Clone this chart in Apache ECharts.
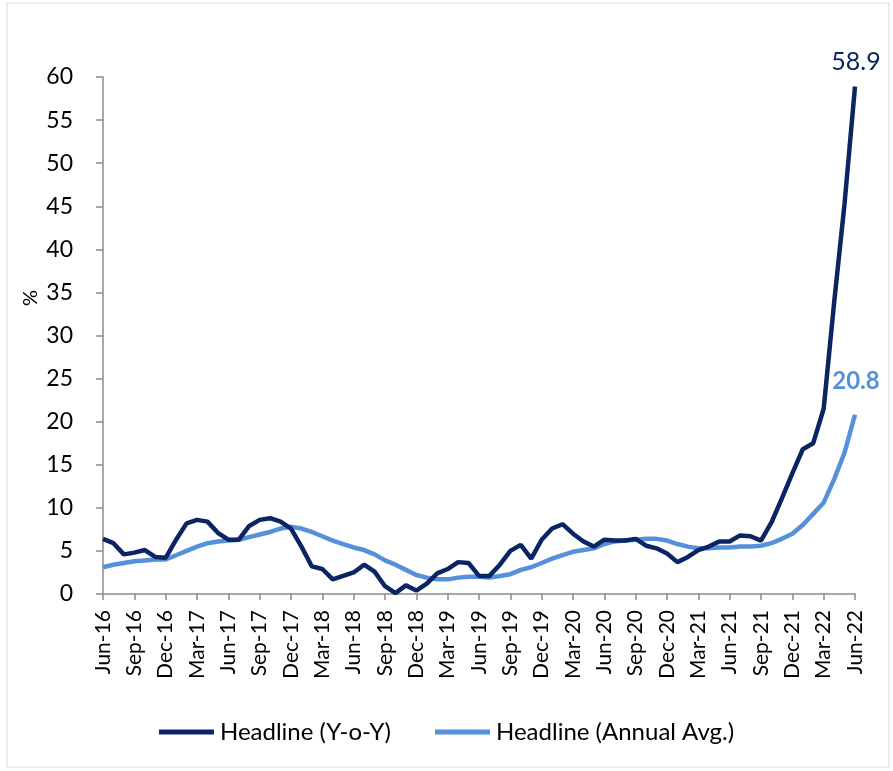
<!DOCTYPE html>
<html>
<head>
<meta charset="utf-8">
<script src="https://cdn.jsdelivr.net/npm/echarts@6/dist/echarts.min.js"></script>
<style>
  html, body { margin: 0; padding: 0; background: #fff; }
  #chart { width: 893px; height: 771px; }
</style>
</head>
<body>
<div id="chart"></div>
<script>
// Monthly categories, Jun-16 .. Jun-22
const months = ['Jan','Feb','Mar','Apr','May','Jun','Jul','Aug','Sep','Oct','Nov','Dec'];
const categories = [];
for (let y = 16; y <= 22; y++) {
  for (let m = 0; m < 12; m++) {
    if (y === 16 && m < 5) continue;
    if (y === 22 && m > 5) continue;
    categories.push(months[m] + '-' + y);
  }
}

// Headline inflation, year-on-year (%)
const headlineYoY = [
  6.4, 5.9, 4.6, 4.8, 5.1, 4.3, 4.2,
  6.3, 8.2, 8.6, 8.4, 7.1, 6.3, 6.3, 7.9, 8.6, 8.8, 8.4, 7.6,
  5.5, 3.2, 2.9, 1.7, 2.1, 2.5, 3.4, 2.6, 0.9, 0.1, 1.0, 0.4,
  1.2, 2.4, 2.9, 3.7, 3.6, 2.1, 2.1, 3.4, 5.0, 5.7, 4.1, 6.3,
  7.6, 8.1, 7.0, 6.1, 5.5, 6.3, 6.2, 6.2, 6.4, 5.6, 5.3, 4.7,
  3.7, 4.3, 5.1, 5.5, 6.1, 6.1, 6.8, 6.7, 6.2, 8.3, 11.1, 14.0,
  16.8, 17.5, 21.5, 33.8, 45.3, 58.9
];

// Headline inflation, annual average (%)
const headlineAvg = [
  3.1, 3.4, 3.6, 3.8, 3.9, 4.0, 4.0,
  4.5, 5.0, 5.5, 5.9, 6.1, 6.2, 6.3, 6.6, 6.9, 7.2, 7.6, 7.8,
  7.6, 7.2, 6.7, 6.2, 5.8, 5.4, 5.1, 4.6, 3.9, 3.4, 2.8, 2.2,
  1.9, 1.7, 1.7, 1.9, 2.0, 2.0, 1.9, 2.1, 2.3, 2.8, 3.1, 3.6,
  4.1, 4.5, 4.9, 5.1, 5.3, 5.8, 6.1, 6.2, 6.3, 6.4, 6.4, 6.2,
  5.8, 5.5, 5.3, 5.3, 5.4, 5.4, 5.5, 5.5, 5.6, 5.9, 6.4, 7.0,
  8.0, 9.3, 10.6, 13.3, 16.4, 20.8
];

const yTicks = { min: 0, max: 60, interval: 5 };

const DARK = '#0B2463';
const LIGHT = '#5590DA';
const FONT = 'Lato, "Open Sans", sans-serif';

// Value label placed above the latest observation of a series
function endLabel(color, fontSize, fontWeight, offsetY) {
  return {
    show: true,
    distance: 0,
    align: 'center',
    verticalAlign: 'middle',
    offset: [1, offsetY],
    color: color,
    fontFamily: FONT,
    fontSize: fontSize,
    fontWeight: fontWeight,
    formatter: (p) => Number(p.value).toFixed(1)
  };
}

const chart = echarts.init(document.getElementById('chart'), null, { renderer: 'canvas' });
chart.setOption({
  animation: false,
  backgroundColor: '#fff',
  textStyle: { fontFamily: FONT },
  graphic: [
    {
      type: 'rect',
      shape: { x: 7, y: 3, width: 882, height: 764 },
      style: { fill: 'none', stroke: '#d9d9d9', lineWidth: 1 },
      silent: true
    },
    {
      type: 'text',
      x: 31,
      y: 298,
      rotation: Math.PI / 2,
      style: {
        text: '%',
        fill: '#000',
        font: '20px ' + FONT,
        align: 'center',
        verticalAlign: 'middle'
      },
      silent: true
    }
  ],
  grid: { left: 103, right: 38, top: 77, bottom: 177 },
  legend: {
    bottom: 22,
    left: 'center',
    itemWidth: 55,
    itemHeight: 5,
    itemGap: 44,
    icon: 'rect',
    textStyle: { fontFamily: FONT, fontSize: 24, color: '#000', padding: [0, 0, 0, 1] },
    data: ['Headline (Y-o-Y)', 'Headline (Annual Avg.)']
  },
  xAxis: {
    type: 'category',
    data: categories,
    boundaryGap: false,
    axisLine: { lineStyle: { color: '#8c8c8c', width: 1.5 } },
    axisTick: { show: true, interval: 2, length: 6, inside: false, lineStyle: { color: '#8c8c8c', width: 1.5 } },
    axisLabel: {
      interval: 2,
      rotate: 90,
      margin: 16,
      color: '#000',
      fontFamily: FONT,
      fontSize: 21
    },
    splitLine: { show: false }
  },
  yAxis: {
    type: 'value',
    min: yTicks.min,
    max: yTicks.max,
    interval: yTicks.interval,
    axisLine: { show: true, lineStyle: { color: '#8c8c8c', width: 1.5 } },
    axisTick: { show: true, length: 7, lineStyle: { color: '#8c8c8c', width: 1.5 } },
    axisLabel: { margin: 30, color: '#000', fontFamily: FONT, fontSize: 23 },
    splitLine: { show: false }
  },
  series: [
    {
      name: 'Headline (Y-o-Y)',
      type: 'line',
      data: headlineYoY,
      showSymbol: false,
      symbol: 'none',
      lineStyle: { color: DARK, width: 4.5 },
      itemStyle: { color: DARK },
      endLabel: endLabel(DARK, 25, 'normal', -25),
      z: 3
    },
    {
      name: 'Headline (Annual Avg.)',
      type: 'line',
      data: headlineAvg,
      showSymbol: false,
      symbol: 'none',
      lineStyle: { color: LIGHT, width: 4.5 },
      itemStyle: { color: LIGHT },
      endLabel: endLabel(LIGHT, 24, 'bold', -34),
      z: 2
    }
  ]
});
</script>
</body>
</html>
